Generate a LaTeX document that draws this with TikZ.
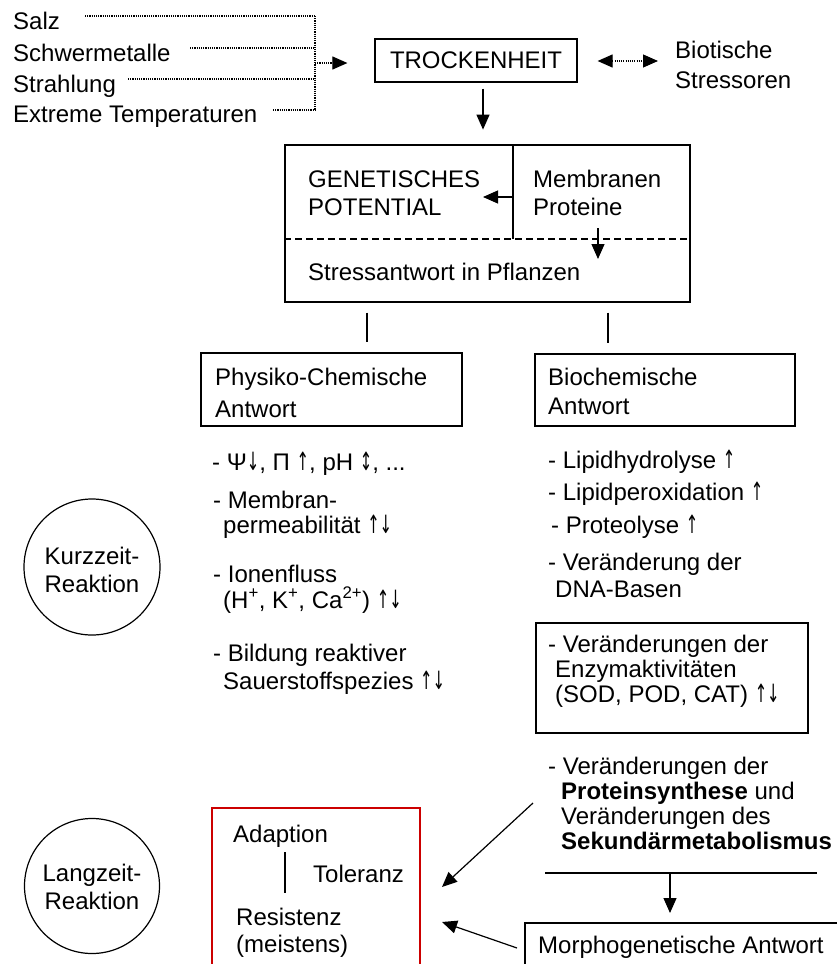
\documentclass[tikz,border=0pt]{standalone}
\usepackage{fontspec}
\usepackage{graphicx}
\setmainfont{Liberation Sans}
\newfontfamily\symf{DejaVu Sans}
\usetikzlibrary{arrows.meta,calc}
\definecolor{boxred}{RGB}{204,0,0}
\newcommand\myfs{\fontsize{24}{28}\selectfont}
\newcommand\aU{{\symf\scalebox{0.62}[1.05]{↑}}}
\newcommand\aD{{\symf\scalebox{0.62}[1.05]{↓}}}
\newcommand\aUD{{\symf\scalebox{0.62}[1.05]{↕}}}
\begin{document}
\begin{tikzpicture}[x=1pt,y=-1pt,
  every node/.style={inner sep=0pt, font=\myfs},
  txt/.style={anchor=base west},
  frame/.style={draw, line width=1.2pt, rectangle},
  ln/.style={line width=1.2pt},
  tip/.tip={Triangle[length=15pt,width=13pt]},
  arr/.style={line width=1.2pt, -tip},
  dotl/.style={line width=1.1pt, dash pattern=on 1.1pt off 1.1pt},
  circ/.style={draw, circle, line width=1.2pt}
  ]
\fill[white] (0,0) rectangle (836,964);
\useasboundingbox (0,0) rectangle (836,964);

% stress factors
\node[txt] (salz) at (13,29) {Salz};
\node[txt] (schw) at (13,61) {Schwermetalle};
\node[txt] (strl) at (13,92) {Strahlung};
\node[txt] (extr) at (13,122) {Extreme Temperaturen};
\coordinate (d1) at (85,16);  \coordinate (j1) at (315,16);
\coordinate (d2) at (190,48); \coordinate (j2) at (315,48);
\coordinate (d3) at (128,79); \coordinate (j3) at (315,79);
\coordinate (d4) at (273,110); \coordinate (j4) at (315,110);
\coordinate (jm) at (315,63);
\draw[dotl] (d1) -- (j1);
\draw[dotl] (d2) -- (j2);
\draw[dotl] (d3) -- (j3);
\draw[dotl] (d4) -- (j4);
\draw[dotl] (j1) -- (j4);

\node[frame, minimum width=202pt, minimum height=43pt] (trock) at (476,60.5) {TROCKENHEIT};
\draw[dotl, -tip] (jm) -- ($(trock.west |- jm)+(-27,0)$);

\node[txt] (bio1) at (675,58) {Biotische};
\node[txt] (bio2) at (675,88) {Stressoren};
\draw[dotl, tip-tip] ($(trock.east)+(20,0.5)$) -- ($(bio1.west |- trock.east)+(-17,0.5)$);

% big box
\node[frame, minimum width=405pt, minimum height=157pt] (big) at (487.5,223.5) {};
\draw[arr] ($(trock.south)+(7,6)$) -- ($(trock.south)+(7,47)$);
\coordinate (dvt) at (513,145);
\coordinate (dvb) at (513,239);
\draw[ln] (dvt) -- (dvb);
\draw[line width=1.2pt, dash pattern=on 7pt off 4pt] (big.west |- dvb) -- (big.east |- dvb);
\node[txt] (gen1) at (308,187) {GENETISCHES};
\node[txt] (gen2) at (308,215) {POTENTIAL};
\node[txt] (mem1) at (533,187) {Membranen};
\node[txt] (mem2) at (533,215) {Proteine};
\node[txt] (stra) at (308,280) {Stressantwort in Pflanzen};
\draw[arr] (dvt |- 0,197) -- (483,197);
\draw[arr] (598,228) -- (598,259);

% response boxes
\node[frame, minimum width=261pt, minimum height=73pt] (phys) at (331.5,389.5) {};
\node[frame, minimum width=260pt, minimum height=72pt] (bioc) at (665,390) {};
\draw[ln, shorten <=10pt, shorten >=10pt] (367,0 |- big.south) -- (367,0 |- phys.north);
\draw[ln, shorten <=10pt, shorten >=10pt] (608,0 |- big.south) -- (608,0 |- bioc.north);
\node[txt] (ph1) at (215,385) {Physiko-Chemische};
\node[txt] (ph2) at (215,417) {Antwort};
\node[txt] (bc1) at (548,385) {Biochemische};
\node[txt] (bc2) at (548,414) {Antwort};

% left list
\node[txt] (l1) at (212,470) {- Ψ\aD, Π \aU, pH \aUD, ...};
\node[txt] (l2) at (213,508) {- Membran-};
\node[txt] (l3) at (223,533) {permeabilität \aU\aD};
\node[txt] (l4) at (213,582) {- Ionenfluss};
\node[txt] (l5) at (223,608) {(H\textsuperscript{+}, K\textsuperscript{+}, Ca\textsuperscript{2+}) \aU\aD};
\node[txt] (l6) at (213,661) {- Bildung reaktiver};
\node[txt] (l7) at (223,689) {Sauerstoffspezies \aU\aD};

% right list
\node[txt] (r1) at (548,468) {- Lipidhydrolyse \aU};
\node[txt] (r2) at (548,500) {- Lipidperoxidation \aU};
\node[txt] (r3) at (551,533) {- Proteolyse \aU};
\node[txt] (r4) at (548,570) {- Veränderung der};
\node[txt] (r5) at (555,597) {DNA-Basen};
\node[frame, minimum width=272pt, minimum height=110pt] (enz) at (672,678) {};
\node[txt] (r6) at (548,652) {- Veränderungen der};
\node[txt] (r7) at (555,677) {Enzymaktivitäten};
\node[txt] (r8) at (555,702) {(SOD, POD, CAT) \aU\aD};
\node[txt] (r9) at (548,774) {- Veränderungen der};
\node[txt] (r10) at (561,799) {\textbf{Proteinsynthese} und};
\node[txt] (r11) at (561,824) {Veränderungen des};
\node[txt] (r12) at (561,849) {\textbf{Sekundärmetabolismus}};
\coordinate (hl) at (545,873);
\coordinate (hr) at (817,873);
\draw[ln] (hl) -- (hr);
\coordinate (mtl) at (525,923);
\draw[ln] (525,966) -- (mtl) -- (840,923);
\node[txt] (morph) at (538,953) {Morphogenetische Antwort};
\draw[arr] (670,0 |- hl) -- (670,0 |- 0,913);

% circles
\node[circ, minimum size=136pt] (kurz) at (92,567) {};
\node[align=center] (kurzt) at (92,570.4) {Kurzzeit-\\Reaktion};
\node[circ, minimum size=135pt] (lang) at (92,886) {};
\node[align=center] (langt) at (92,887.4) {Langzeit-\\Reaktion};

% red box
\coordinate (rtl) at (212,808);
\coordinate (rtr) at (420,808);
\draw[boxred, line width=2.6pt] (212,968) -- (rtl) -- (rtr) -- (420,968);
\node[txt] (ad) at (233,842) {Adaption};
\draw[ln] (285,852) -- (285,893);
\node[txt] (tol) at (313,882) {Toleranz};
\node[txt] (res) at (236,925) {Resistenz};
\node[txt] (mei) at (236,952) {(meistens)};

\coordinate (a1s) at (533,803);
\coordinate (a1e) at (442,887);
\coordinate (a2s) at (517,948);
\coordinate (a2e) at (442,922);
\draw[arr] (a1s) -- (a1e);
\draw[arr] (a2s) -- (a2e);
\end{tikzpicture}
\end{document}
